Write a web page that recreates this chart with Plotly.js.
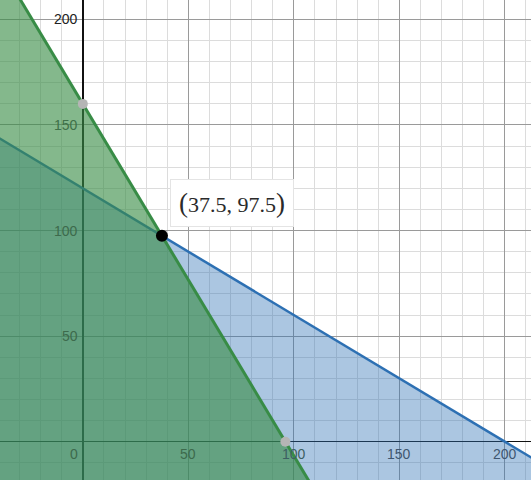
<!DOCTYPE html>
<html>
<head>
<meta charset="utf-8">
<script src="https://cdn.plot.ly/plotly-3.0.1.min.js"></script>
<style>html,body{margin:0;padding:0;background:#fff;}#chart{width:531px;height:480px;}</style>
</head>
<body>
<div id="chart"></div>
<script>
// Constraint lines, given by their intercepts: x/a + y/b = 1
const lineNames = ['blue', 'green'];
const xIntercepts = [200, 96];
const yIntercepts = [120, 160];
const lineColors = ['#2d70b3', '#388c46'];
const fillColors = ['rgba(45,112,179,0.4)', 'rgba(56,140,70,0.62)'];

// Highlighted points
const vertexX = [37.5];
const vertexY = [97.5];
const vertexLabel = ['37.5, 97.5'];
const greyX = [0, 96];
const greyY = [160, 0];

// Tick labels
const xTicks = [50, 100, 150, 200];
const yTicks = [50, 100, 150, 200];
const xTickColors = ['#3d6a4c', '#3d5f62', '#3f5670', '#3f5670'];
const yTickColors = ['#3d6a4c', '#3d6a4c', '#3f7049', '#222222'];

const xLo = -80, xHi = 300, yBottom = -80;
function lineY(i, x) { return yIntercepts[i] * (1 - x / xIntercepts[i]); }

const traces = [];
[0, 1].forEach(i => {
  traces.push({
    x: [xLo, xHi, xHi, xLo],
    y: [lineY(i, xLo), lineY(i, xHi), yBottom, yBottom],
    type: 'scatter', mode: 'lines', fill: 'toself',
    fillcolor: fillColors[i], line: {width: 0}, hoverinfo: 'skip', showlegend: false
  });
  traces.push({
    x: [xLo, xHi],
    y: [lineY(i, xLo), lineY(i, xHi)],
    type: 'scatter', mode: 'lines',
    line: {color: lineColors[i], width: i === 1 ? 3 : 2.5}, name: lineNames[i], showlegend: false
  });
});
traces.push({x: greyX, y: greyY, type: 'scatter', mode: 'markers',
  marker: {color: '#b5b5b5', size: 10}, showlegend: false});
traces.push({x: vertexX, y: vertexY, type: 'scatter', mode: 'markers',
  marker: {color: '#000', size: 12}, showlegend: false});

const annotations = [];
xTicks.forEach((t, k) => annotations.push({x: t, y: 0, xref: 'x', yref: 'y', text: String(t),
  showarrow: false, xanchor: 'center', yanchor: 'top', yshift: -2,
  font: {family: 'Arial, Liberation Sans', size: 14, color: xTickColors[k]}}));
yTicks.forEach((t, k) => annotations.push({x: 0, y: t, xref: 'x', yref: 'y', text: String(t),
  showarrow: false, xanchor: 'right', yanchor: 'middle', xshift: -3,
  font: {family: 'Arial, Liberation Sans', size: 14, color: yTickColors[k]}}));
annotations.push({x: 0, y: 0, xref: 'x', yref: 'y', text: '0', showarrow: false,
  xanchor: 'right', yanchor: 'top', xshift: -3, yshift: -2,
  font: {family: 'Arial, Liberation Sans', size: 14, color: '#3d6a4c'}});
annotations.push({x: vertexX[0], y: vertexY[0], xref: 'x', yref: 'y',
  text: '<span style="font-size:27px">(</span>' + vertexLabel[0] + '<span style="font-size:27px">)</span>',
  showarrow: false, xanchor: 'left', yanchor: 'bottom', xshift: 8, yshift: 9,
  bgcolor: '#ffffff', bordercolor: '#e4e4e4', borderwidth: 1, borderpad: 8,
  font: {family: 'Liberation Serif, DejaVu Serif, serif', size: 22, color: '#2a2a2a'}});

const layout = {
  width: 531, height: 480,
  margin: {l: 0, r: 0, t: 0, b: 0},
  paper_bgcolor: '#fff', plot_bgcolor: '#fff',
  showlegend: false,
  xaxis: {range: [-39.24, 212.4], dtick: 50, tick0: 0, showticklabels: false, ticks: '',
    showgrid: true, gridcolor: '#9a9a9a', gridwidth: 1,
    minor: {dtick: 10, tick0: 0, showgrid: true, gridcolor: '#dcdcdc', gridwidth: 1},
    zeroline: true, zerolinecolor: '#111', zerolinewidth: 1.5, fixedrange: true},
  yaxis: {range: [-18.14, 209.2], dtick: 50, tick0: 0, showticklabels: false, ticks: '',
    showgrid: true, gridcolor: '#9a9a9a', gridwidth: 1,
    minor: {dtick: 10, tick0: 0, showgrid: true, gridcolor: '#dcdcdc', gridwidth: 1},
    zeroline: true, zerolinecolor: '#111', zerolinewidth: 1.5, fixedrange: true},
  annotations: annotations
};
Plotly.newPlot('chart', traces, layout, {displayModeBar: false, staticPlot: true});
</script>
</body>
</html>
